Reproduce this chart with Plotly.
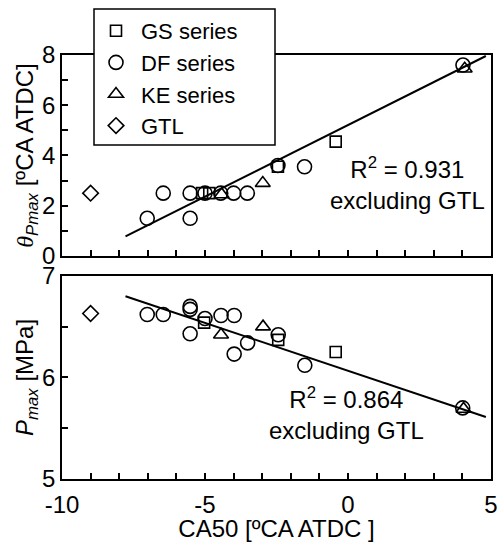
import plotly.graph_objects as go

# ---- data ----
gs_x_top = [-5.1, -4.85, -2.45, -0.43]
gs_theta = [2.5, 2.5, 3.55, 4.55]
df_x_top = [-7.02, -6.46, -5.52, -5.52, -5.0, -4.45, -4.0, -3.52, -2.45, -1.52, 4.02]
df_theta = [1.5, 2.5, 2.5, 1.5, 2.5, 2.5, 2.5, 2.5, 3.6, 3.55, 7.6]
ke_x_top = [-4.42, -2.98, 4.08]
ke_theta = [2.45, 2.9, 7.45]
gtl_x_top = [-9.0]
gtl_theta = [2.5]

gs_x_bot = [-5.03, -2.44, -0.43]
gs_pmax = [6.54, 6.37, 6.25]
df_x_bot = [-7.02, -6.46, -5.52, -5.52, -5.52, -5.0, -4.44, -3.98, -3.98, -3.51, -2.44, -1.51, 4.01]
df_pmax = [6.62, 6.62, 6.70, 6.67, 6.43, 6.58, 6.61, 6.61, 6.23, 6.34, 6.42, 6.12, 5.70]
ke_x_bot = [-4.44, -2.97, 4.04]
ke_pmax = [6.42, 6.50, 5.69]
gtl_x_bot = [-9.0]
gtl_pmax = [6.63]

fit_x = [-7.78, 4.82]
fit_theta = [0.78, 7.96]
fit_pmax = [6.80, 5.61]

x_ticks = list(range(-10, 6))
x_ticktext = [str(v) if v % 5 == 0 else "" for v in x_ticks]

FONT = "Liberation Sans, Arial, sans-serif"
FS = 24
BLACK = "black"

series = [
    ("GS series", "square-open", 11, gs_x_top, gs_theta, gs_x_bot, gs_pmax),
    ("DF series", "circle-open", 14, df_x_top, df_theta, df_x_bot, df_pmax),
    ("KE series", "triangle-up-open", 13, ke_x_top, ke_theta, ke_x_bot, ke_pmax),
    ("GTL", "diamond-open", 12, gtl_x_top, gtl_theta, gtl_x_bot, gtl_pmax),
]

L, R, T, B = 62, 8, 55, 63
W, H = 499, 542
pw, ph = W - L - R, H - T - B


def px_x(v):
    return (v - L) / pw


def px_y(v):
    return (H - B - v) / ph


fig = go.Figure()

# fit lines
fig.add_trace(go.Scatter(x=fit_x, y=fit_theta, mode="lines", line=dict(color=BLACK, width=2),
                         showlegend=False, xaxis="x", yaxis="y"))
fig.add_trace(go.Scatter(x=fit_x, y=fit_pmax, mode="lines", line=dict(color=BLACK, width=2),
                         showlegend=False, xaxis="x2", yaxis="y2"))

for name, sym, size, xt, yt, xb, yb in series:
    mk = dict(symbol=sym, size=size, color=BLACK, line=dict(color=BLACK, width=1.6))
    fig.add_trace(go.Scatter(x=xt, y=yt, mode="markers", name=name, marker=mk,
                             legendgroup=name, xaxis="x", yaxis="y"))
    fig.add_trace(go.Scatter(x=xb, y=yb, mode="markers", name=name, marker=mk,
                             legendgroup=name, showlegend=False, xaxis="x2", yaxis="y2"))

axis_common = dict(showline=True, mirror=True, linecolor=BLACK, linewidth=1.5,
                   ticks="inside", ticklen=6, tickwidth=1.5, tickcolor=BLACK,
                   showgrid=False, zeroline=False, automargin=False,
                   tickfont=dict(family=FONT, size=FS, color=BLACK))

theta_title = ('<span style="font-family:Liberation Serif, serif"><i>θ</i></span>'
               '<sub><i>Pmax</i></sub> [ºCA ATDC]')

fig.update_layout(
    width=W, height=H,
    margin=dict(l=L, r=R, t=T, b=B),
    plot_bgcolor="white", paper_bgcolor="white",
    font=dict(family=FONT, size=FS, color=BLACK),
    xaxis=dict(axis_common, range=[-10, 5], tickvals=x_ticks, ticktext=x_ticktext,
               showticklabels=False, anchor="y", domain=[0, 1]),
    yaxis=dict(axis_common, range=[0, 8], tickvals=list(range(0, 9)),
               ticktext=[str(v) if v % 2 == 0 else "" for v in range(0, 9)],
               domain=[0.526, 1], anchor="x",
               title=dict(text=theta_title, font=dict(family=FONT, size=FS), standoff=2)),
    xaxis2=dict(axis_common, range=[-10, 5], tickvals=x_ticks, ticktext=x_ticktext,
                anchor="y2", domain=[0, 1], ticklabelstandoff=3,
                title=dict(text="CA50 [ºCA ATDC ]", font=dict(family=FONT, size=FS), standoff=0)),
    yaxis2=dict(axis_common, range=[5, 7], tickvals=[5, 5.5, 6, 6.5, 7],
                ticktext=["5", "", "6", "", "7"],
                domain=[0, 0.479], anchor="x2",
                title=dict(text="<i>P</i><sub><i>max</i></sub> [MPa]",
                           font=dict(family=FONT, size=FS), standoff=2)),
    legend=dict(x=px_x(91), y=px_y(10), xanchor="left", yanchor="top",
                bgcolor="rgba(0,0,0,0)", borderwidth=0,
                font=dict(family=FONT, size=22, color=BLACK),
                itemwidth=40,
                tracegroupgap=0, traceorder="grouped"),
    shapes=[dict(type="rect", xref="paper", yref="paper",
                 x0=px_x(94), x1=px_x(275), y0=px_y(145), y1=px_y(9),
                 fillcolor="white", line=dict(color=BLACK, width=1.5), layer="above")],
    annotations=[
        dict(text="R<sup>2</sup> = 0.931<br>excluding GTL", x=px_x(407), y=px_y(184),
             xref="paper", yref="paper", showarrow=False,
             xanchor="center", yanchor="middle",
             font=dict(family=FONT, size=FS, color=BLACK)),
        dict(text="R<sup>2</sup> = 0.864<br>excluding GTL", x=px_x(346), y=px_y(413),
             xref="paper", yref="paper", showarrow=False,
             xanchor="center", yanchor="middle",
             font=dict(family=FONT, size=FS, color=BLACK)),
    ],
)

fig.write_html("out.html")
